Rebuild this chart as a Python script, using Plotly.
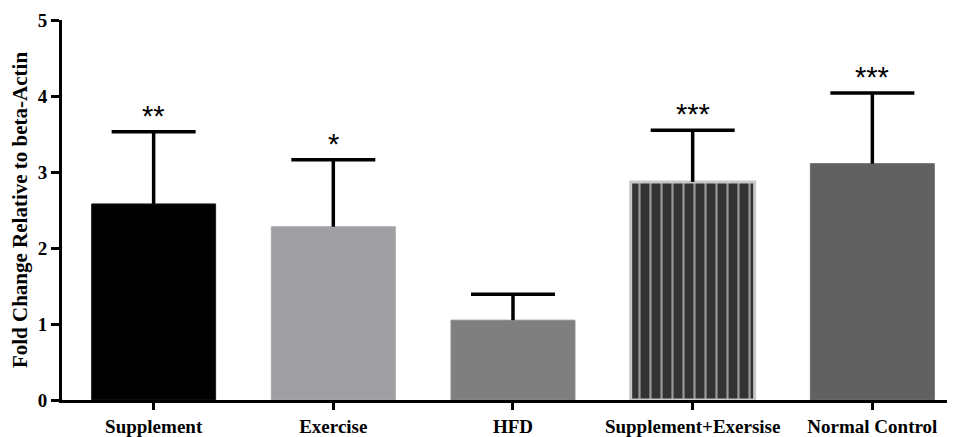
import plotly.graph_objects as go

categories = ["Supplement", "Exercise", "HFD", "Supplement+Exersise", "Normal Control"]
means = [2.58, 2.28, 1.05, 2.87, 3.11]
errors = [0.95, 0.88, 0.34, 0.68, 0.93]
stars = ["**", "*", "", "***", "***"]
colors = ["#000000", "#a0a0a4", "#7f7f7f", "#333333", "#616161"]
line_colors = ["#1a1a1a", "#a8a8ac", "#8a8a8a", "#c8c8c8", "#6e6e6e"]
line_widths = [1, 1, 1, 3, 1]
patterns = ["", "", "", "|", ""]

tops = [m + e for m, e in zip(means, errors)]

fig = go.Figure()
fig.add_trace(go.Bar(
    x=categories,
    y=means,
    width=0.69,
    marker=dict(
        color=colors,
        line=dict(color=line_colors, width=line_widths),
        pattern=dict(shape=patterns, bgcolor=colors, fgcolor="#c4c4c4",
                     size=11, solidity=0.2, fillmode="overlay"),
    ),
    error_y=dict(type="data", array=errors, arrayminus=[0] * len(errors),
                 symmetric=False, color="#000000", thickness=3.5, width=0),
    showlegend=False,
))
# error bar caps
fig.add_trace(go.Scatter(
    x=categories, y=tops, mode="markers",
    marker=dict(symbol="line-ew", size=60, line=dict(color="#000000", width=3.5)),
    showlegend=False, hoverinfo="skip",
))

for c, t, s in zip(categories, tops, stars):
    if s:
        fig.add_annotation(x=c, y=t, text=s, showarrow=False,
                           yanchor="bottom", yshift=-2,
                           font=dict(family="Liberation Sans", size=29, color="#000000"))

# page body has an 8px margin, so the figure is offset by 8px
fig.update_layout(
    width=947, height=429,
    margin=dict(l=54, r=0, t=12, b=37),
    paper_bgcolor="white", plot_bgcolor="white",
    font=dict(family="Liberation Serif", color="#000000"),
)
fig.update_xaxes(
    range=[-0.51, 4.46], showline=True, linecolor="#000000", linewidth=3,
    ticks="outside", ticklen=7, tickwidth=2.5, tickcolor="#000000",
    tickfont=dict(family="Liberation Serif", size=19, color="#000000", weight="bold"),
    showgrid=False, zeroline=False, automargin=False,
)
fig.update_yaxes(
    range=[0, 5], tickvals=[0, 1, 2, 3, 4, 5], showline=True, linecolor="#000000", linewidth=3,
    ticks="outside", ticklen=8, tickwidth=2.5, tickcolor="#000000",
    tickfont=dict(family="Liberation Serif", size=19, color="#000000", weight="bold"),
    title=dict(text="Fold Change Relative to beta-Actin", standoff=8,
               font=dict(family="Liberation Serif", size=21, color="#000000", weight="bold")),
    showgrid=False, zeroline=False, automargin=False,
)

fig.write_html("out.html")
